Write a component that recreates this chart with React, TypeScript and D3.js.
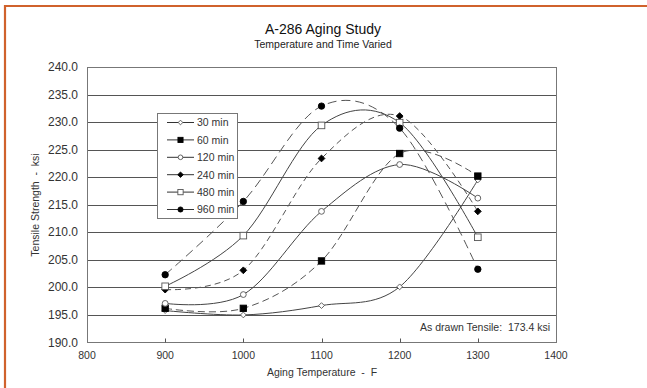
import React from "react";
import * as d3 from "d3";

const temps = [900, 1000, 1100, 1200, 1300];
const seriesNames = ["30 min", "60 min", "120 min", "240 min", "480 min", "960 min"];
const s30 = [195.8, 195.0, 196.7, 200.1, 219.5];
const s60 = [196.2, 196.2, 204.8, 224.3, 220.2];
const s120 = [197.1, 198.7, 213.8, 222.3, 216.2];
const s240 = [199.6, 203.1, 223.4, 231.1, 213.8];
const s480 = [200.2, 209.4, 229.4, 229.9, 209.1];
const s960 = [202.3, 215.6, 232.9, 228.9, 203.3];
const seriesValues = [s30, s60, s120, s240, s480, s960];
const xTicks = [800, 900, 1000, 1100, 1200, 1300, 1400];
const yTicks = [190, 195, 200, 205, 210, 215, 220, 225, 230, 235, 240];

const styles = [
  { marker: "diamond", size: 2.9, fill: "#fff", dash: "", stroke: "#444" },
  { marker: "square", size: 3.2, fill: "#000", dash: "7,4", stroke: "#555" },
  { marker: "circle", size: 2.9, fill: "#fff", dash: "", stroke: "#444" },
  { marker: "diamond", size: 3.4, fill: "#000", dash: "6,4", stroke: "#555" },
  { marker: "square", size: 3.3, fill: "#fff", dash: "", stroke: "#444" },
  { marker: "circle", size: 3.2, fill: "#000", dash: "9,5", stroke: "#555" },
];

const font = "Liberation Sans, Arial, sans-serif";

function Marker({ type, x, y, size, fill }: { type: string; x: number; y: number; size: number; fill: string }) {
  const stroke = fill === "#000" ? "#000" : "#555";
  if (type === "circle") return <circle cx={x} cy={y} r={size} fill={fill} stroke={stroke} strokeWidth={0.9} />;
  if (type === "square")
    return <rect x={x - size} y={y - size} width={size * 2} height={size * 2} fill={fill} stroke={stroke} strokeWidth={0.9} />;
  const s = size;
  return (
    <path d={`M${x},${y - s}L${x + s},${y}L${x},${y + s}L${x - s},${y}Z`} fill={fill} stroke={stroke} strokeWidth={0.9} />
  );
}

export default function App() {
  const W = 647, H = 388;
  const left = 87, right = 556, top = 67, bottom = 342.5;
  const x = d3.scaleLinear().domain([800, 1400]).range([left, right]);
  const y = d3.scaleLinear().domain([190, 240]).range([bottom, top]);
  const line = d3
    .line<number>()
    .x((_, i) => x(temps[i]))
    .y((d) => y(d))
    .curve(d3.curveCatmullRom.alpha(0));

  const legX = 157, legY = 113, legW = 80, legH = 105;
  const pre = { whiteSpace: "pre" as const };

  return (
    <svg width={W} height={H} style={{ position: "absolute", left: 0, top: 0, background: "#fff" }} fontFamily={font}>
      <rect x={0} y={0} width={W} height={H} fill="#fff" />
      <line x1={5} y1={6} x2={W} y2={6} stroke="#d0622c" strokeWidth={2.2} />
      <line x1={5} y1={5} x2={5} y2={H} stroke="#d0622c" strokeWidth={2.2} />

      <text x={323} y={34} textAnchor="middle" fontSize={14} fill="#111">A-286 Aging Study</text>
      <text x={323} y={48} textAnchor="middle" fontSize={10.5} fill="#222">Temperature and Time Varied</text>

      {yTicks.slice(1, -1).map((t) => (
        <line key={t} x1={left} x2={right} y1={Math.round(y(t)) + 0.5} y2={Math.round(y(t)) + 0.5} stroke="#555" strokeWidth={1} />
      ))}
      <rect x={left + 0.5} y={top + 0.5} width={right - left} height={bottom - top - 0.5} fill="none" stroke="#777" strokeWidth={1} />
      {xTicks.slice(1, -1).map((t) => (
        <line key={t} x1={Math.round(x(t)) + 0.5} x2={Math.round(x(t)) + 0.5} y1={bottom} y2={bottom - 4} stroke="#555" />
      ))}
      {yTicks.map((t) => (
        <text key={t} x={78} y={y(t) + 4} textAnchor="end" fontSize={12} fill="#333">
          {t.toFixed(1)}
        </text>
      ))}
      {xTicks.map((t) => (
        <text key={t} x={x(t)} y={359} textAnchor="middle" fontSize={10.5} fill="#333">
          {t}
        </text>
      ))}
      <text x={322} y={376} textAnchor="middle" fontSize={10.5} fill="#333" style={pre}>Aging Temperature  -  F</text>
      <text transform="translate(39,205) rotate(-90)" textAnchor="middle" fontSize={10.5} fill="#333" style={pre}>
        Tensile Strength  -  ksi
      </text>

      {seriesValues.map((vals, si) => (
        <path key={si} d={line(vals) || ""} fill="none" stroke={styles[si].stroke} strokeWidth={1} strokeDasharray={styles[si].dash} />
      ))}
      {seriesValues.map((vals, si) =>
        vals.map((v, i) => (
          <Marker key={`${si}-${i}`} type={styles[si].marker} x={x(temps[i])} y={y(v)} size={styles[si].size} fill={styles[si].fill} />
        ))
      )}

      <rect x={legX + 0.5} y={legY + 0.5} width={legW} height={legH} fill="#fff" stroke="#777" />
      {seriesNames.map((n, i) => {
        const ly = legY + 9.5 + i * 17.4;
        return (
          <g key={n}>
            <line x1={167} x2={194} y1={ly} y2={ly} stroke="#333" />
            <Marker type={styles[i].marker} x={180.5} y={ly} size={styles[i].size * 0.8} fill={styles[i].fill} />
            <text x={197} y={ly + 3.8} fontSize={10.5} fill="#333">{n}</text>
          </g>
        );
      })}

      <text x={550} y={331} textAnchor="end" fontSize={10.5} fill="#333" style={pre}>As drawn Tensile:  173.4 ksi</text>
    </svg>
  );
}
